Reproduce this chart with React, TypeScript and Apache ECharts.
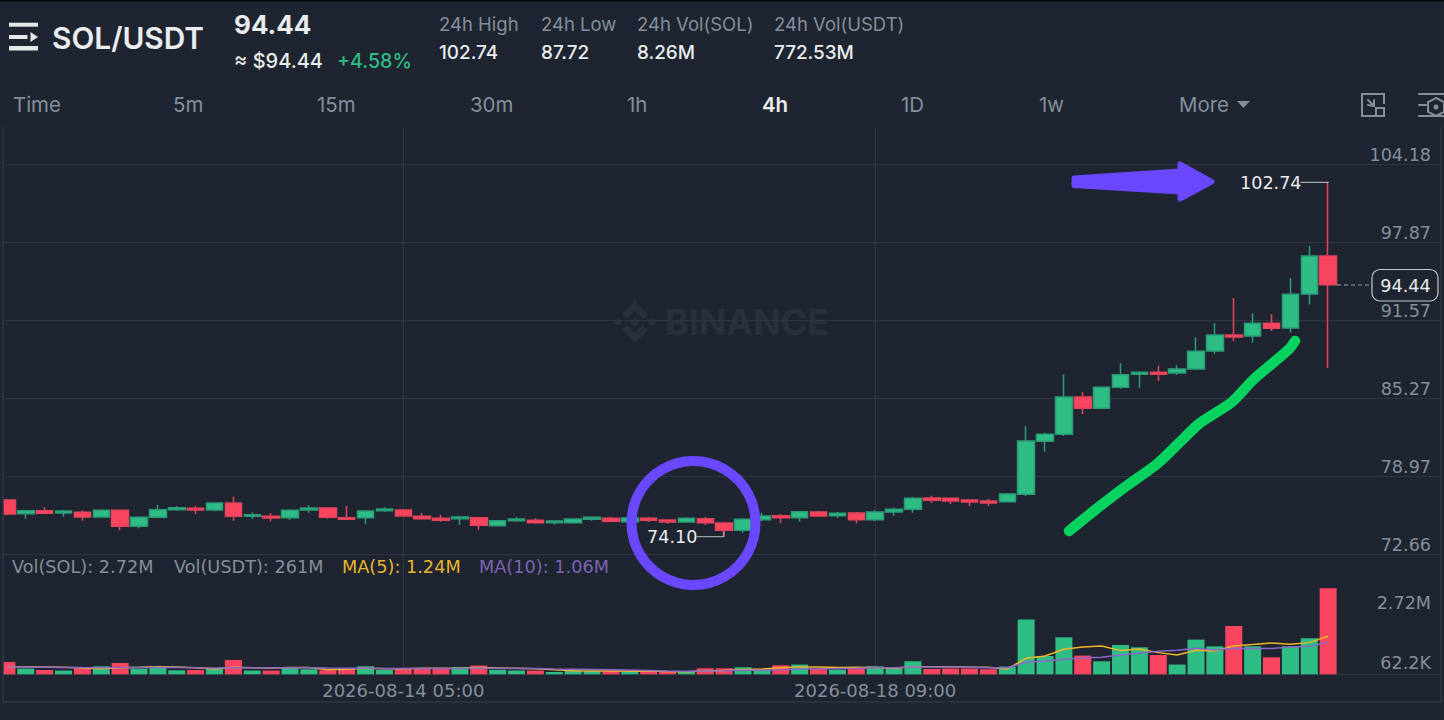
import React, { useEffect, useRef } from "react";
import * as echarts from "echarts";

const opens = [77.05,75.94,76.18,75.99,76.05,75.67,76.22,74.92,75.65,76.27,76.38,76.24,76.81,75.73,75.73,75.62,76.24,76.40,75.62,75.62,76.18,76.24,75.73,75.57,75.54,75.62,74.97,75.37,75.41,75.21,75.21,75.49,75.57,75.30,75.57,75.43,75.27,75.54,75.19,74.60,75.46,75.78,75.62,76.08,75.78,75.99,75.46,76.08,76.30,77.21,77.19,77.05,76.97,76.91,77.51,81.79,82.36,85.37,84.46,86.16,87.21,87.37,87.31,87.64,89.09,90.38,90.30,91.33,90.95,93.70,96.77];
const closes = [75.92,76.18,75.97,76.16,75.67,76.22,74.92,75.65,76.27,76.43,76.24,76.81,75.73,75.86,75.59,76.22,76.40,75.65,75.49,76.16,76.32,75.76,75.54,75.41,75.67,75.00,75.37,75.51,75.21,75.35,75.51,75.65,75.33,75.59,75.41,75.27,75.57,75.21,74.60,75.49,75.76,75.62,76.10,75.76,75.97,75.46,76.08,76.30,77.19,77.03,76.97,76.89,76.81,77.53,81.82,82.36,85.37,84.46,86.16,87.18,87.37,87.21,87.64,89.07,90.38,90.22,91.33,90.93,93.67,96.77,94.44];
const lows = [75.81,75.54,75.97,75.70,75.37,75.67,74.60,74.76,75.65,76.18,75.92,76.14,75.37,75.54,75.33,75.46,76.02,75.54,75.49,75.08,76.10,75.76,75.46,75.30,75.05,74.65,74.92,75.30,75.13,75.05,75.21,75.37,75.27,75.21,75.27,75.13,75.21,75.03,74.10,74.41,75.35,75.17,75.30,75.67,75.59,75.17,75.35,75.76,76.02,76.81,76.73,76.56,76.56,76.89,77.37,80.95,82.22,84.00,84.38,86.04,86.10,86.67,87.18,87.56,88.87,89.88,89.76,90.71,90.57,92.84,87.72];
const highs = [77.13,76.24,76.46,76.24,76.22,76.30,76.24,75.70,76.64,76.56,76.56,76.86,77.32,76.05,75.99,76.30,76.62,76.46,76.56,76.24,76.46,76.27,75.99,75.86,75.76,75.70,75.41,75.67,75.57,75.35,75.57,75.70,75.70,75.67,75.67,75.49,75.65,75.67,75.30,75.57,76.02,75.94,76.14,76.16,76.08,76.08,76.24,76.43,77.32,77.40,77.21,77.13,77.15,77.61,83.01,82.49,87.19,85.75,86.18,88.10,87.45,87.90,87.93,90.20,91.33,93.37,92.14,92.06,94.99,97.58,102.74];
// volumes in thousands of SOL
const volumes = [442,238,195,177,248,309,411,238,279,186,195,248,504,177,177,269,217,186,248,309,195,248,238,238,288,331,201,177,177,133,186,164,164,146,146,133,133,248,248,279,217,340,362,226,207,248,309,248,464,226,238,238,217,300,1752,628,1206,640,464,968,897,659,362,1134,927,1555,927,587,927,1175,2720];
const ma5 = [290,288,285,280,260,233,268,277,297,285,262,229,282,262,260,275,269,205,219,246,231,237,248,246,241,269,259,247,235,204,175,167,165,159,161,151,144,161,182,208,225,266,289,285,270,277,270,248,295,299,297,283,277,227,557,628,835,906,937,794,846,732,659,804,783,937,980,1030,989,1041,1240];
const ma10 = [285,283,280,275,270,268,270,272,275,272,265,260,262,262,262,265,262,255,250,250,245,243,245,245,240,250,248,242,238,223,222,213,206,197,183,163,156,163,170,185,188,205,225,233,239,251,268,268,290,285,287,277,262,267,433,473,526,566,587,659,711,773,804,866,813,866,856,856,906,918,1060];

const priceTicks = [72.66, 78.97, 85.27, 91.57, 97.87, 104.18];
const volumeTicks = [62.2, 2720];
const volumeTickLabels = ["62.2K", "2.72M"];
const intervals = ["Time", "5m", "15m", "30m", "1h", "4h", "1D", "1w", "More"];
const intervalX = [13, 173, 317, 470, 627, 762, 901, 1039, 1179];
const statTitles = ["24h High", "24h Low", "24h Vol(SOL)", "24h Vol(USDT)"];
const statValues = ["102.74", "87.72", "8.26M", "772.53M"];
const statX = [439, 541, 637, 774];
const labelledIndexes = [21, 46];
const firstCandle = Date.UTC(2026, 7, 10, 17);
const slots = 77;
const categories = Array.from({ length: slots }, (_, i) =>
  new Date(firstCandle + i * 4 * 3600 * 1000).toISOString().slice(0, 16).replace("T", " ")
);

const BG = "#1f2530";
const GRID = "#2f3541";
const GREY = "#848e9c";
const GREEN = "#2ebd85";
const RED = "#f9455f";
const FONT = "Inter";
const CHART_FONT = "DejaVu Sans";
const CHART_SIZE = 17.6;
const STEP = 18.875;
const GRID_LEFT = -2.54;

function label(text: string, x: number, y: number, size: number, fill: string, weight = 400, align = "left", z = 20, family = FONT): any {
  return {
    type: "text", x, y, z, silent: true,
    style: { text, fill, fontFamily: family, fontSize: size, fontWeight: weight, align, verticalAlign: "middle" },
  };
}
function bar(x: number, y: number, w: number, h: number, fill: string, z = 20, r = 0): any {
  return { type: "rect", z, silent: true, shape: { x, y, width: w, height: h, r }, style: { fill } };
}
function stroke(points: number[][], color: string, width: number, z = 20, extra: any = {}): any {
  return { type: "polyline", z, silent: true, shape: { points, ...extra.shape }, style: { stroke: color, lineWidth: width, fill: "none", lineCap: "round", lineJoin: "round", ...extra.style } };
}
function poly(points: number[][], fill: string, z = 20, line = 0): any {
  return { type: "polygon", z, silent: true, shape: { points }, style: { fill, stroke: line ? fill : undefined, lineWidth: line, lineJoin: "round" } };
}

const WM = "#2a303b";
const graphics: any[] = [
  // edges
  bar(0, 0, 1444, 1.5, "#050608", 30),
  bar(0, 127, 3, 593, BG, 15),
  bar(1441.5, 127, 3, 593, BG, 15),
  stroke([[3, 127], [3, 702], [1441, 702], [1441, 127]], GRID, 1.5, 16, { style: { lineCap: "butt", lineJoin: "miter" } }),
  // watermark
  poly([[635, 301], [648, 314], [643, 319], [635, 311], [627, 319], [622, 314]], WM, -1),
  poly([[635, 343], [648, 330], [643, 325], [635, 333], [627, 325], [622, 330]], WM, -1),
  poly([[635, 317], [640, 322], [635, 327], [630, 322]], WM, -1),
  poly([[618, 318], [622, 322], [618, 326], [614, 322]], WM, -1),
  poly([[652, 318], [656, 322], [652, 326], [648, 322]], WM, -1),
  label("BINANCE", 665, 322, 36, WM, 700, "left", -1),
  // header
  bar(9, 22.7, 29, 4, "#e6e8ea"),
  bar(9, 35, 18.5, 4, "#e6e8ea"),
  bar(9, 46, 29, 4.5, "#e6e8ea"),
  poly([[30.5, 32], [38, 37], [30.5, 42]], "#e6e8ea"),
  label("SOL/USDT", 52, 38, 29.8, "#eaecef", 600),
  label("94.44", 234, 24, 26, "#eaecef", 700),
  label("≈ $94.44", 234, 61, 20, "#eaecef", 500),
  label("+4.58%", 337, 61, 19.6, GREEN, 500),
  ...statTitles.map((t, i) => label(t, statX[i], 24, 18.5, GREY)),
  ...statValues.map((t, i) => label(t, statX[i], 52, 18.9, "#eaecef", 500)),
  ...intervals.map((t, i) => label(t, intervalX[i], 104.5, 20.4, t === "4h" ? "#eaecef" : GREY, t === "4h" ? 600 : 400)),
  poly([[1237, 101], [1250, 101], [1243.5, 108]], GREY),
  // screen icon
  stroke([[1380, 116], [1362, 116], [1362, 94], [1384, 94], [1384, 104]], GREY, 2, 20, { style: { lineCap: "butt", lineJoin: "miter" } }),
  stroke([[1368, 100], [1374, 106]], GREY, 2),
  stroke([[1368, 105], [1374, 106], [1374, 100]], GREY, 2),
  { type: "rect", z: 20, silent: true, shape: { x: 1376, y: 108, width: 8, height: 8 }, style: { fill: "none", stroke: GREY, lineWidth: 2 } },
  // settings icon
  stroke([[1419, 94], [1444, 94]], GREY, 2),
  stroke([[1419, 105], [1426, 105]], GREY, 2),
  stroke([[1419, 116], [1444, 116]], GREY, 2),
  { type: "polygon", z: 20, silent: true, shape: { points: [[1436, 98], [1444, 102], [1444, 112], [1436, 116], [1428, 112], [1428, 102]] }, style: { fill: "none", stroke: GREY, lineWidth: 2 } },
  { type: "circle", z: 20, silent: true, shape: { cx: 1436, cy: 107, r: 2.5 }, style: { fill: GREY } },
  // volume legend
  label("Vol(SOL): 2.72M", 12, 567, CHART_SIZE + 0.1, GREY, 400, "left", 20, CHART_FONT),
  label("Vol(USDT): 261M", 174, 567, CHART_SIZE + 0.1, GREY, 400, "left", 20, CHART_FONT),
  label("MA(5): 1.24M", 342, 567, CHART_SIZE + 0.1, "#e6b52f", 400, "left", 20, CHART_FONT),
  label("MA(10): 1.06M", 479, 567, CHART_SIZE + 0.1, "#7c62b5", 400, "left", 20, CHART_FONT),
  // extreme labels
  stroke([[1301, 182.3], [1328.3, 182.3]], "#cfd3d8", 1, 22),
  label("102.74", 1240, 183, CHART_SIZE, "#eaecef", 400, "left", 22, CHART_FONT),
  stroke([[697, 536.7], [724, 536.7], [724, 532]], "#b7bdc6", 1, 22),
  label("74.10", 647, 537, CHART_SIZE, "#eaecef", 400, "left", 22, CHART_FONT),
  // last price
  { type: "line", z: 18, silent: true, shape: { x1: 1337, y1: 285, x2: 1371, y2: 285 }, style: { stroke: "#9aa1ac", lineWidth: 1.2, lineDash: [4, 3] } },
  { type: "rect", z: 18, silent: true, shape: { x: 1372, y: 269.5, width: 66, height: 31.5, r: 8 }, style: { fill: BG, stroke: "#c3c8cf", lineWidth: 1.2 } },
  label("94.44", 1405.5, 285.5, CHART_SIZE, "#eaecef", 400, "center", 19, CHART_FONT),
  // hand drawn annotations
  { type: "circle", z: 21, silent: true, shape: { cx: 693.5, cy: 523, r: 62 }, style: { fill: "none", stroke: "#6a48ff", lineWidth: 10 } },
  poly([[1074, 178], [1180, 171], [1180, 164], [1212, 181.7], [1180, 199], [1180, 192], [1074, 185.5]], "#6a48ff", 21, 5),
  {
    type: "polyline", z: 21, silent: true,
    shape: { smooth: 0.25, points: [[1069, 531], [1095, 510], [1125, 487], [1157, 464], [1180, 442], [1200, 423], [1232, 402], [1253, 380], [1280, 357], [1290, 348], [1295, 341]] },
    style: { fill: "none", stroke: "#05d25f", lineWidth: 10.5, lineCap: "round", lineJoin: "round" },
  },
];

const candles = opens.map((o, i) => [o, closes[i], lows[i], highs[i]]);
const volumeBars = volumes.map((v, i) => ({
  value: v,
  itemStyle: { color: closes[i] >= opens[i] ? GREEN : RED },
}));

const option: any = {
  animation: false,
  backgroundColor: BG,
  textStyle: { fontFamily: CHART_FONT },
  graphic: graphics,
  grid: [
    { left: GRID_LEFT, top: 127, width: STEP * slots, height: 427.3, outerBoundsMode: "none" },
    { left: GRID_LEFT, top: 554.3, width: STEP * slots, height: 120, outerBoundsMode: "none" },
  ],
  xAxis: [
    {
      type: "category", gridIndex: 0, data: categories,
      axisLine: { show: false }, axisTick: { show: false }, axisLabel: { show: false }, splitLine: { show: false },
    },
    {
      type: "category", gridIndex: 1, data: categories,
      axisLine: { show: true, lineStyle: { color: GRID, width: 1 } }, axisTick: { show: false },
      axisLabel: {
        show: true, color: GREY, fontSize: 18, fontFamily: CHART_FONT, margin: 7, hideOverlap: false,
        interval: (i: number) => labelledIndexes.includes(i),
      },
      splitLine: { show: false },
    },
  ],
  yAxis: [
    {
      type: "value", gridIndex: 0, position: "right", min: 72.66, max: 107.194, scale: true,
      axisLine: { show: false },
      axisTick: { show: false, customValues: priceTicks },
      axisLabel: {
        inside: true, customValues: priceTicks, margin: 19.8, color: GREY, fontSize: CHART_SIZE, fontFamily: CHART_FONT,
        verticalAlign: "bottom", align: "right", formatter: (v: number) => v.toFixed(2),
      },
      splitLine: { show: true, lineStyle: { color: GRID, width: 1 } },
    },
    {
      type: "value", gridIndex: 1, position: "right", min: 62.2, max: 3770.2, scale: true,
      axisLine: { show: false },
      axisTick: { show: false, customValues: volumeTicks },
      axisLabel: {
        inside: true, customValues: volumeTicks, margin: 19.8, fontFamily: CHART_FONT, align: "right",
        formatter: (v: number) => (v > 1000 ? `{high|${volumeTickLabels[1]}}` : `{low|${volumeTickLabels[0]}}`),
        rich: {
          high: { color: GREY, fontSize: CHART_SIZE, fontFamily: CHART_FONT, padding: [29, 0, 0, 0] },
          low: { color: GREY, fontSize: CHART_SIZE, fontFamily: CHART_FONT, padding: [0, 0, 23, 0] },
        },
      },
      splitLine: { show: false },
    },
  ],
  series: [
    {
      type: "candlestick", xAxisIndex: 0, yAxisIndex: 0, data: candles, barWidth: 17, z: 3,
      itemStyle: { color: GREEN, color0: RED, borderColor: "#2a9d78", borderColor0: "#e6435c", borderWidth: 1.5 },
      markLine: {
        silent: true, symbol: "none", z: 1, animation: false, label: { show: false },
        lineStyle: { color: GRID, width: 1, type: "solid" },
        data: labelledIndexes.map((i) => ({ xAxis: i })),
      },
    },
    {
      type: "bar", xAxisIndex: 1, yAxisIndex: 1, data: volumeBars, barWidth: 17, z: 3,
      markLine: {
        silent: true, symbol: "none", z: 1, animation: false, label: { show: false },
        lineStyle: { color: GRID, width: 1, type: "solid" },
        data: labelledIndexes.map((i) => ({ xAxis: i })),
      },
    },
    {
      type: "line", xAxisIndex: 1, yAxisIndex: 1, data: ma5, showSymbol: false, symbol: "none", z: 4,
      lineStyle: { color: "#f0b528", width: 1.5 },
    },
    {
      type: "line", xAxisIndex: 1, yAxisIndex: 1, data: ma10, showSymbol: false, symbol: "none", z: 5,
      lineStyle: { color: "#8a67c9", width: 1.5 },
    },
  ],
};

export default function App() {
  const ref = useRef<HTMLDivElement>(null);
  useEffect(() => {
    document.body.style.margin = "0";
    document.body.style.background = BG;
    const chart = echarts.init(ref.current!, null, { renderer: "svg" });
    chart.setOption(option);
    return () => chart.dispose();
  }, []);
  return <div ref={ref} style={{ width: 1444, height: 720, overflow: "hidden" }} />;
}
